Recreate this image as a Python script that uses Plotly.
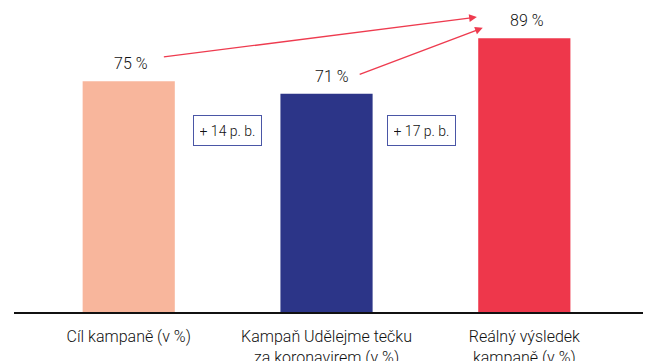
import plotly.graph_objects as go

# Campaign vaccination figures (percent)
categories = [
    "Cíl kampaně (v %)",
    "Kampaň Udělejme tečku<br>za koronavirem (v %)",
    "Reálný výsledek<br>kampaně (v %)",
]
values = [75, 71, 89]
value_labels = ["75 %", "71 %", "89 %"]
gain_labels = ["+ 14 p. b.", "+ 17 p. b."]

bar_colors = ["#F8B69C", "#2C3588", "#EE374B"]
arrow_color = "#EE3B4F"
text_color = "#111111"
font_family = "Roboto"
font_weight = 300

fig = go.Figure(
    go.Bar(
        x=categories,
        y=values,
        marker=dict(color=bar_colors, line=dict(width=0)),
        width=0.466,
        hoverinfo="skip",
    )
)

annotations = []

# value labels above each bar
label_xshift = [2, 5, 3]
for i, (v, lab) in enumerate(zip(values, value_labels)):
    annotations.append(dict(
        x=i, y=v, xref="x", yref="y", text=lab, showarrow=False,
        yanchor="bottom", yshift=6, xshift=label_xshift[i],
        font=dict(family=font_family, size=16, color=text_color, weight=font_weight),
    ))

# boxed percentage-point gains between the bars
gain_x = [0.5, 1.48]
for gx, lab in zip(gain_x, gain_labels):
    annotations.append(dict(
        x=gx, y=59, xref="x", yref="y", text=lab, showarrow=False,
        font=dict(family=font_family, size=14, color=text_color, weight=font_weight),
        bordercolor="#4A56A6", borderwidth=1, borderpad=6,
        width=55, height=17, bgcolor="white",
    ))

# arrows pointing from the target and the campaign value to the real result
arrows = [
    ((0 + 0.17, values[0] + 7.9), (2 - 0.24, values[2] + 6.9)),
    ((1 + 0.16, values[1] + 6.1), (2 - 0.21, values[2] + 3.4)),
]
for (tx, ty), (hx, hy) in arrows:
    annotations.append(dict(
        x=hx, y=hy, ax=tx, ay=ty, xref="x", yref="y", axref="x", ayref="y",
        text="", showarrow=True, arrowhead=2, arrowsize=1.1, arrowwidth=1.4,
        arrowcolor=arrow_color, standoff=0, startstandoff=0,
    ))

fig.update_layout(
    width=648, height=361,
    margin=dict(l=14, r=5, t=0, b=49),
    paper_bgcolor="white", plot_bgcolor="white",
    showlegend=False,
    annotations=annotations,
    xaxis=dict(
        type="category", range=[-0.58, 2.6],
        showline=True, linecolor="#111111", linewidth=2,
        showgrid=False, zeroline=False, ticks="",
        ticklabelstandoff=9, automargin=False,
        tickfont=dict(family=font_family, size=16, color=text_color, weight=font_weight),
        fixedrange=True,
    ),
    yaxis=dict(range=[0, 101.46], visible=False, fixedrange=True),
)

fig.write_html("out.html", config={"displayModeBar": False})
